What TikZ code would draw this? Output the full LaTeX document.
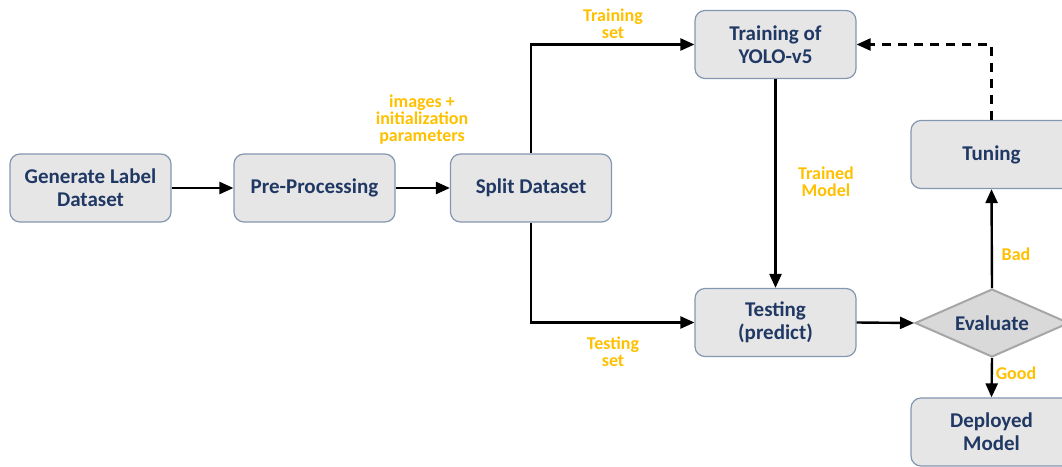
\documentclass[tikz,border=0pt]{standalone}
\usepackage{fontspec}
\setmainfont{Carlito}
\usetikzlibrary{shapes.geometric,arrows.meta}
\definecolor{boxfill}{HTML}{E7E6E6}
\definecolor{boxline}{HTML}{8497B0}
\definecolor{dfill}{HTML}{D9D9D9}
\definecolor{dline}{HTML}{A6A6A6}
\definecolor{navy}{HTML}{203864}
\definecolor{gold}{HTML}{FFC000}
\tikzset{
  stepbox/.style={draw=boxline, line width=1.2pt, fill=boxfill, rounded corners=10pt,
    minimum width=161pt, minimum height=68pt, inner sep=0pt, align=center,
    font=\fontsize{21}{23}\selectfont\bfseries, text=navy},
  decision/.style={diamond, draw=dline, line width=2pt, fill=dfill, aspect=2.25,
    minimum width=154pt, minimum height=68pt, inner sep=0pt,
    font=\fontsize{21}{23}\selectfont\bfseries, text=navy},
  lbl/.style={font=\fontsize{18}{17}\selectfont\bfseries, text=gold, align=center},
  conn/.style={line width=2.4pt, -{Triangle[length=14pt,width=12pt]}},
}
\begin{document}
\begin{tikzpicture}[x=1pt,y=-1pt]
\useasboundingbox (0,0) rectangle (1062,466);
\node[stepbox] (gen) at (90.5,188) {Generate Label\\Dataset};
\node[stepbox] (pre) at (314.5,188) {Pre-Processing};
\node[stepbox] (split) at (531,188) {Split Dataset};
\node[stepbox] (train) at (775.5,44.5) {Training of\\YOLO-v5};
\node[stepbox] (test) at (775.5,322.5) {Testing\\(predict)};
\node[stepbox] (tune) at (991.5,154.5) {Tuning};
\node[decision] (eval) at (992,323) {Evaluate};
\node[stepbox] (dep) at (991.5,432) {Deployed\\Model};
\draw[conn] (gen) -- (pre);
\draw[conn] (pre) -- (split);
\draw[conn] (split.north) |- (train.west);
\draw[conn] (split.south) |- (test.west);
\draw[conn] (train) -- (test);
\draw[conn] (test.east) -- (eval.west);
\draw[conn] (eval.north) -- (tune.south);
\draw[conn] (eval.south) -- (dep.north);
\draw[conn, dash pattern=on 9pt off 7pt] (tune.north) |- (train.east);
\node[lbl] (l1) at (422,120) {images +\\initialization\\parameters};
\node[lbl] (l2) at (613,24) {Training\\set};
\node[lbl] (l3) at (613,352) {Testing\\set};
\node[lbl] (l4) at (826,182) {Trained\\Model};
\node[lbl] (l5) at (1016,254) {Bad};
\node[lbl] (l6) at (1016,373) {Good};
\end{tikzpicture}
\end{document}
